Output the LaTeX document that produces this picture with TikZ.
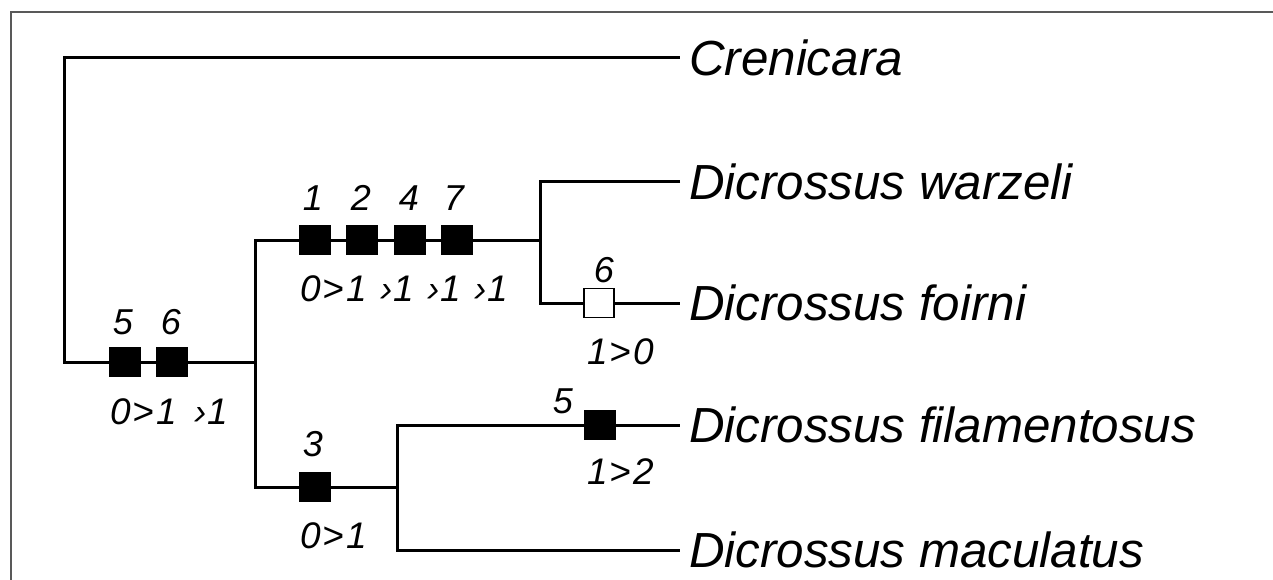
\documentclass[tikz,border=0pt]{standalone}
\usepackage{fontspec}
\setmainfont{Liberation Sans}
\newcommand\taxfont{\fontsize{49.3}{56}\selectfont\itshape}
\newcommand\labfont{\fontsize{36}{42}\selectfont\itshape}
\newcommand\stfont{\fontsize{37}{42}\selectfont\itshape}
\newcommand\gto{\hspace{2pt}>\hspace{2pt}}
\tikzset{
  branch/.style={line width=3pt, draw=black, line join=miter},
  frameline/.style={line width=1.6pt, draw=black!65},
  taxon/.style={anchor=west, inner xsep=9pt, inner ysep=0pt, font=\taxfont},
  synbox/.style={draw=black, fill=black, line width=1.2pt, minimum width=30pt, minimum height=29pt, inner sep=0pt},
  revbox/.style={synbox, fill=white},
  charnum/.style={anchor=base, inner sep=0pt, font=\labfont},
  statelab/.style={anchor=base west, inner sep=0pt, font=\stfont}
}
\begin{document}
\begin{tikzpicture}[x=1pt,y=-1pt]
\useasboundingbox (0,0) rectangle (1273,580);
% frame
\draw[frameline] (11,580) -- (11,12) -- (1273,12);

% junctions
\coordinate (root) at (64,362);
\coordinate (j1) at (255,362);
\coordinate (j2) at (540,240);
\coordinate (j3) at (397,487);

% taxa
\node[taxon] (cren) at (680,58) {Crenicara};
\node[taxon] (warz) at (680,182) {Dicrossus warzeli};
\node[taxon] (foir) at (680,303) {Dicrossus foirni};
\node[taxon] (fila) at (680,425) {Dicrossus filamentosus};
\node[taxon] (macu) at (680,550) {Dicrossus maculatus};

% character boxes
\node[synbox] (r5) at (125,362) {};
\node[synbox] (r6) at (172,362) {};
\node[synbox] (u1) at (315,240) {};
\node[synbox] (u2) at (362,240) {};
\node[synbox] (u4) at (410,240) {};
\node[synbox] (u7) at (457,240) {};
\node[revbox] (f6) at (599,303) {};
\node[synbox] (m5) at (600,425) {};
\node[synbox] (l3) at (315,487) {};

% branches
\draw[branch] (r5.west) -- (root) |- (cren.west);
\draw[branch] (r5) -- (r6) -- (j1);
\draw[branch] (u1.west) -| (j1) |- (l3.west);
\draw[branch] (u1) -- (u2) -- (u4) -- (u7) -- (j2);
\draw[branch] (warz.west) -| (j2) |- (f6.west);
\draw[branch] (f6) -- (foir.west);
\draw[branch] (l3) -- (j3);
\draw[branch] (m5.west) -| (j3) |- (macu.west);
\draw[branch] (m5) -- (fila.west);

% character numbers
\node[charnum] (n5r) at (123,334) {5};
\node[charnum] (n6r) at (171,334) {6};
\node[charnum] (n1u) at (313,211) {1};
\node[charnum] (n2u) at (361,211) {2};
\node[charnum] (n4u) at (409,211) {4};
\node[charnum] (n7u) at (454,211) {7};
\node[charnum] (n6f) at (604,282) {6};
\node[charnum] (n5m) at (563,413) {5};
\node[charnum] (n3l) at (313,456) {3};

% state changes
\node[statelab] (sr) at (110,424) {0\gto1\hspace{18pt}›1};
\node[statelab] (su) at (300,301) {0\gto1\hspace{14pt}›1\hspace{14pt}›1\hspace{14pt}›1};
\node[statelab] (sf) at (587,364) {1\gto0};
\node[statelab] (sm) at (587,484) {1\gto2};
\node[statelab] (sl) at (300,548) {0\gto1};
\end{tikzpicture}
\end{document}
